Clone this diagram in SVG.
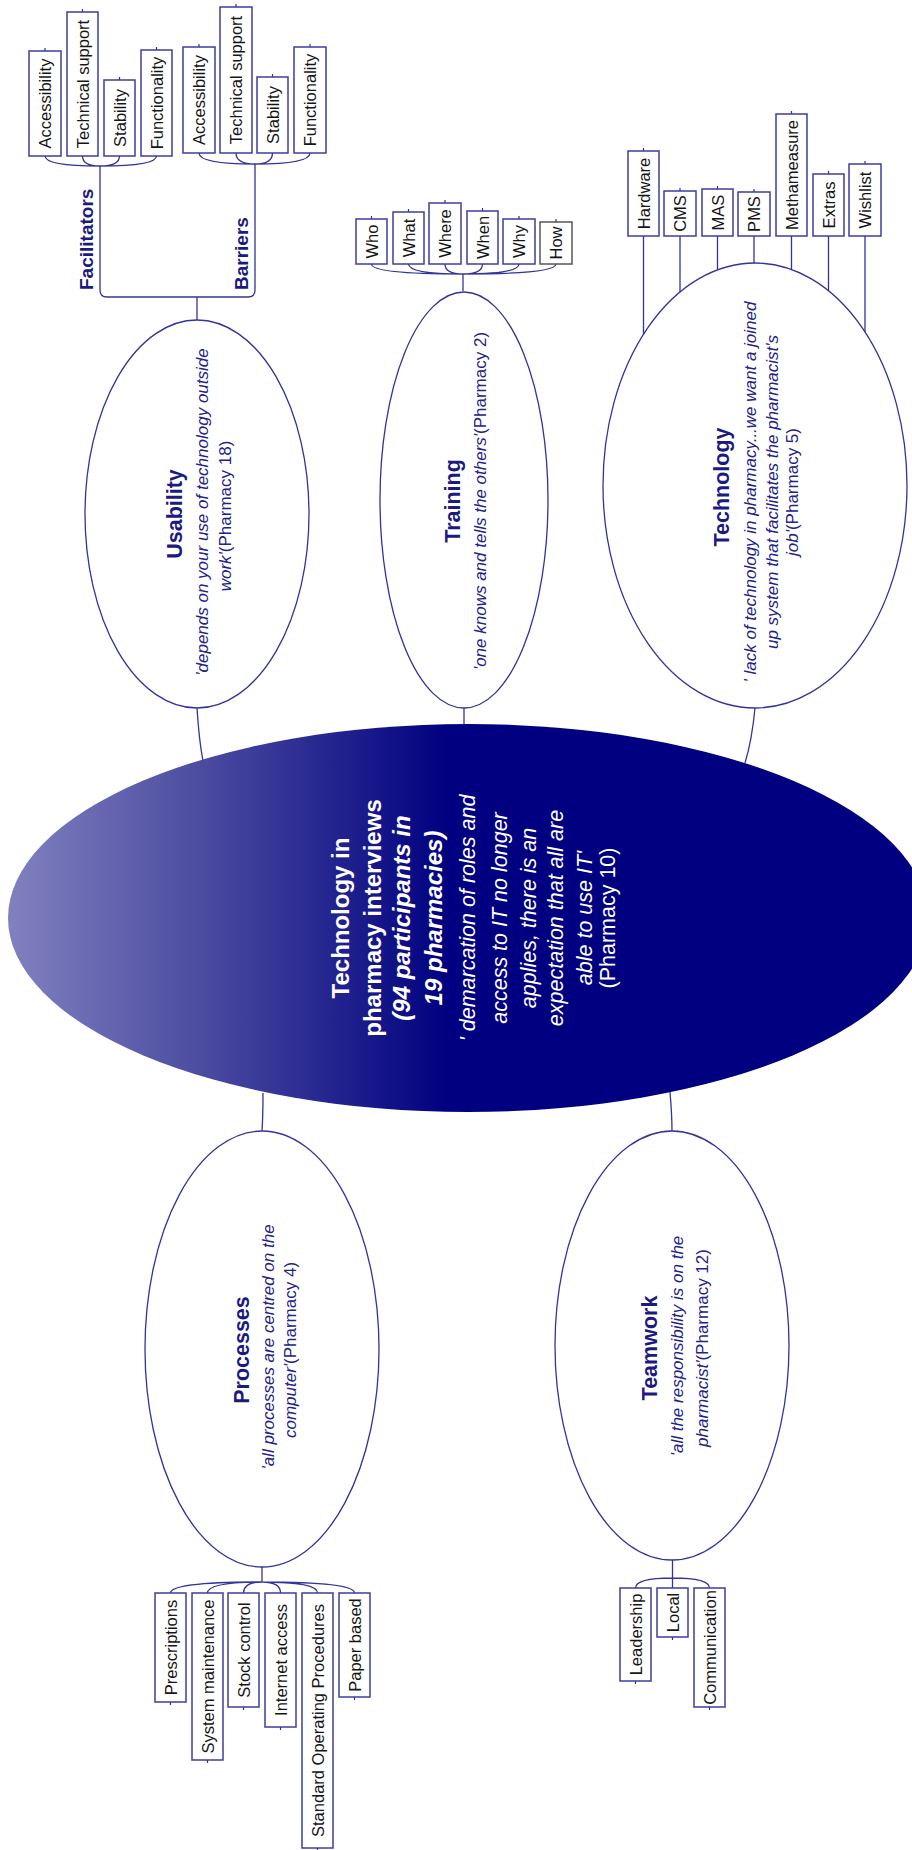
<svg xmlns="http://www.w3.org/2000/svg" width="912" height="1850" viewBox="0 0 912 1850">
<defs>
<style>
.ln{fill:none;stroke:#333399;stroke-width:1.3}
.tk{fill:none;stroke:#333399;stroke-width:1.2}
.bx{fill:#fff;stroke:#3c3ca0;stroke-width:1.5}
.bxg{fill:#fff;stroke:#555;stroke-width:1.5}
.el{fill:#fff;stroke:#333399;stroke-width:1.3}
text{font-family:"Liberation Sans",Arial,sans-serif;text-anchor:middle;dominant-baseline:central}
.bt{font-size:16.5px;fill:#151515}
.tt{font-size:21.5px;font-weight:bold;fill:#1a1a80}
.lb{font-size:19px;font-weight:bold;fill:#1a1a80;text-anchor:start}
.q{font-size:17px;font-style:italic;fill:#22228a}
.n{font-style:normal}
.ct{font-size:24px;font-weight:bold;fill:#fff}
.ci{font-size:24px;font-weight:bold;font-style:italic;fill:#fff}
.cq{font-size:21.5px;font-style:italic;fill:#fff}
.cn{font-size:21.5px;fill:#fff}
</style>
<linearGradient id="cg" gradientUnits="userSpaceOnUse" x1="8" y1="0" x2="450" y2="0">
<stop offset="0" stop-color="#8181c0"/>
<stop offset="0.45" stop-color="#4a4aa0"/>
<stop offset="1" stop-color="#000080"/>
</linearGradient>
</defs>
<rect width="912" height="1850" fill="#fff"/>

<g id="connectors">
<path class="ln" d="M45,156 Q45,166 100,166 M82.5,156 Q82.5,166 100,166 M119.5,156 Q119.5,166 100,166 M156.5,156 Q156.5,166 100,166"/>
<path class="ln" d="M199,153 Q199,164 255,164 M236,153 Q236,164 255,164 M272.5,153 Q272.5,164 255,164 M310,153 Q310,164 255,164"/>
<path class="ln" d="M100,166 V290 Q100,297 107,297 H248 Q255,297 255,290 V164"/>
<path class="ln" d="M197,297 V320"/>
<path class="ln" d="M371.5,264 Q371.5,274 463,274 M408.5,264 Q408.5,274 463,274 M445,264 Q445,274 463,274 M482.5,264 Q482.5,274 463,274 M519,264 Q519,274 463,274 M556,264 Q556,274 463,274"/>
<path class="ln" d="M463,274 V291"/>
<path class="ln" d="M643.5,236 V334 M680,236 V292 M717.5,236 V270 M754,236 V263 M791.5,236 V269.5 M828.5,236 V291 M865,236 V332"/>
<path class="ln" d="M262,1567 V1582 M262,1582 Q170.5,1582 170.5,1593 M262,1582 Q207.5,1582 207.5,1593 M262,1582 Q243.5,1582 243.5,1593 M262,1582 Q280.5,1582 280.5,1593 M262,1582 Q317.5,1582 317.5,1593 M262,1582 Q354.5,1582 354.5,1593"/>
<path class="ln" d="M672.5,1560 V1588 M672.5,1578 Q635.5,1578 635.5,1588 M672.5,1578 Q709.5,1578 709.5,1588"/>
<path class="ln" d="M197,708 Q199,740 203,761"/>
<path class="ln" d="M464,708 V725"/>
<path class="ln" d="M755,708 Q752,740 745,763"/>
<path class="ln" d="M263,1093 Q263,1115 262,1131"/>
<path class="ln" d="M670,1092 Q672,1115 672,1131"/>
</g>

<g id="center">
<ellipse cx="468" cy="918" rx="460" ry="194" fill="url(#cg)"/>
<text class="ct" transform="translate(340,918) rotate(-90)">Technology in</text>
<text class="ct" transform="translate(372,918) rotate(-90)">pharmacy interviews</text>
<text class="ci" transform="translate(401,918) rotate(-90)">(94 participants in</text>
<text class="ci" transform="translate(433,918) rotate(-90)">19 pharmacies)</text>
<text class="cq" transform="translate(468,918) rotate(-90)">' demarcation of roles and</text>
<text class="cq" transform="translate(500,918) rotate(-90)">access to IT no longer</text>
<text class="cq" transform="translate(529,918) rotate(-90)">applies, there is an</text>
<text class="cq" transform="translate(556,918) rotate(-90)">expectation that all are</text>
<text class="cq" transform="translate(585,918) rotate(-90)">able to use IT'</text>
<text class="cn" transform="translate(608,918) rotate(-90)">(Pharmacy 10)</text>
</g>

<g id="usability">
<ellipse class="el" cx="197" cy="514" rx="112" ry="194"/>
<text class="tt" transform="translate(175,514) rotate(-90)">Usability</text>
<text class="q" transform="translate(202,512) rotate(-90)">'depends on your use of technology outside</text>
<text class="q" transform="translate(225,516) rotate(-90)">work'<tspan class="n">(Pharmacy 18)</tspan></text>
</g>

<g id="facilitators">
<text class="lb" transform="translate(86,290) rotate(-90)">Facilitators</text>
<rect class="bx" x="29" y="51" width="32" height="105"/>
<rect class="bx" x="67" y="12" width="31" height="144"/>
<rect class="bx" x="104" y="80" width="31" height="76"/>
<rect class="bx" x="141" y="50" width="31" height="106"/>
<path class="tk" d="M45,48 V51 M82.5,9 V12 M119.5,77 V80 M156.5,47 V50"/>
<text class="bt" transform="translate(45,103.5) rotate(-90)">Accessibility</text>
<text class="bt" transform="translate(82.5,84) rotate(-90)">Technical support</text>
<text class="bt" transform="translate(119.5,118) rotate(-90)">Stability</text>
<text class="bt" transform="translate(156.5,103) rotate(-90)">Functionality</text>
</g>

<g id="barriers">
<text class="lb" transform="translate(241,290) rotate(-90)">Barriers</text>
<rect class="bx" x="183" y="47" width="32" height="106"/>
<rect class="bx" x="220" y="7" width="32" height="146"/>
<rect class="bx" x="257" y="77" width="31" height="76"/>
<rect class="bx" x="294" y="47" width="32" height="106"/>
<path class="tk" d="M199,44 V47 M236,4 V7 M272.5,74 V77 M310,44 V47"/>
<text class="bt" transform="translate(199,100) rotate(-90)">Accessibility</text>
<text class="bt" transform="translate(236,80) rotate(-90)">Technical support</text>
<text class="bt" transform="translate(272.5,115) rotate(-90)">Stability</text>
<text class="bt" transform="translate(310,100) rotate(-90)">Functionality</text>
</g>

<g id="training">
<ellipse class="el" cx="464" cy="500" rx="84" ry="208"/>
<text class="tt" transform="translate(453,501) rotate(-90)">Training</text>
<text class="q" transform="translate(480,501) rotate(-90)">'one knows and tells the others'<tspan class="n">(Pharmacy 2)</tspan></text>
<rect class="bx" x="356" y="219" width="31" height="45"/>
<rect class="bx" x="393" y="212" width="31" height="52"/>
<rect class="bx" x="429" y="203" width="32" height="61"/>
<rect class="bx" x="467" y="211" width="31" height="53"/>
<rect class="bx" x="503" y="219" width="32" height="45"/>
<rect class="bxg" x="540" y="222" width="32" height="42"/>
<path class="tk" d="M371.5,216 V219 M408.5,209 V212 M445,200 V203 M482.5,208 V211 M519,216 V219 M556,219 V222"/>
<text class="bt" transform="translate(371.5,241.5) rotate(-90)">Who</text>
<text class="bt" transform="translate(408.5,238) rotate(-90)">What</text>
<text class="bt" transform="translate(445,233.5) rotate(-90)">Where</text>
<text class="bt" transform="translate(482.5,237.5) rotate(-90)">When</text>
<text class="bt" transform="translate(519,241.5) rotate(-90)">Why</text>
<text class="bt" transform="translate(556,243) rotate(-90)">How</text>
</g>

<g id="technology">
<ellipse class="el" cx="755" cy="485.5" rx="152" ry="222.5"/>
<text class="tt" transform="translate(722,487) rotate(-90)">Technology</text>
<text class="q" transform="translate(750,492) rotate(-90)">' lack of technology in pharmacy...we want a joined</text>
<text class="q" transform="translate(772,492) rotate(-90)">up system that facilitates the pharmacist's</text>
<text class="q" transform="translate(792,492) rotate(-90)">job'<tspan class="n">(Pharmacy 5)</tspan></text>
<rect class="bx" x="628" y="151" width="31" height="85"/>
<rect class="bx" x="664" y="191" width="32" height="45"/>
<rect class="bx" x="702" y="189" width="31" height="47"/>
<rect class="bx" x="738" y="192" width="32" height="44"/>
<rect class="bx" x="776" y="114" width="31" height="122"/>
<rect class="bx" x="813" y="174" width="31" height="62"/>
<rect class="bx" x="849" y="164" width="32" height="72"/>
<path class="tk" d="M643.5,148 V151 M680,188 V191 M717.5,186 V189 M754,189 V192 M791.5,111 V114 M828.5,171 V174 M865,161 V164"/>
<text class="bt" transform="translate(643.5,193.5) rotate(-90)">Hardware</text>
<text class="bt" transform="translate(680,213.5) rotate(-90)">CMS</text>
<text class="bt" transform="translate(717.5,212.5) rotate(-90)">MAS</text>
<text class="bt" transform="translate(754,214) rotate(-90)">PMS</text>
<text class="bt" transform="translate(791.5,175) rotate(-90)">Methameasure</text>
<text class="bt" transform="translate(828.5,205) rotate(-90)">Extras</text>
<text class="bt" transform="translate(865,200) rotate(-90)">Wishlist</text>
</g>

<g id="processes">
<ellipse class="el" cx="262" cy="1349" rx="117" ry="218"/>
<text class="tt" transform="translate(242,1350) rotate(-90)">Processes</text>
<text class="q" transform="translate(268,1347) rotate(-90)">'all processes are centred on the</text>
<text class="q" transform="translate(290,1350) rotate(-90)">computer'<tspan class="n">(Pharmacy 4)</tspan></text>
<rect class="bx" x="155" y="1593" width="31" height="109"/>
<rect class="bx" x="192" y="1593" width="31" height="167"/>
<rect class="bx" x="228" y="1593" width="31" height="114"/>
<rect class="bx" x="265" y="1593" width="31" height="134"/>
<rect class="bx" x="302" y="1593" width="31" height="255"/>
<rect class="bx" x="339" y="1593" width="31" height="104"/>
<path class="tk" d="M170.5,1702 V1705 M207.5,1760 V1763 M243.5,1707 V1710 M280.5,1727 V1730 M317.5,1848 V1850 M354.5,1697 V1700"/>
<text class="bt" transform="translate(170.5,1647.5) rotate(-90)">Prescriptions</text>
<text class="bt" transform="translate(207.5,1676.5) rotate(-90)">System maintenance</text>
<text class="bt" transform="translate(243.5,1650) rotate(-90)">Stock control</text>
<text class="bt" transform="translate(280.5,1660) rotate(-90)">Internet access</text>
<text class="bt" transform="translate(317.5,1720.5) rotate(-90)">Standard Operating Procedures</text>
<text class="bt" transform="translate(354.5,1645) rotate(-90)">Paper based</text>
</g>

<g id="teamwork">
<ellipse class="el" cx="672" cy="1345.5" rx="117" ry="214.5"/>
<text class="tt" transform="translate(650,1348) rotate(-90)">Teamwork</text>
<text class="q" transform="translate(677,1346) rotate(-90)">'all the responsibility is on the</text>
<text class="q" transform="translate(702,1348) rotate(-90)">pharmacist'<tspan class="n">(Pharmacy 12)</tspan></text>
<rect class="bx" x="620" y="1588" width="31" height="93"/>
<rect class="bx" x="657" y="1588" width="31" height="49"/>
<rect class="bx" x="694" y="1588" width="31" height="119"/>
<path class="tk" d="M635.5,1681 V1684 M672.5,1637 V1640 M709.5,1707 V1710"/>
<text class="bt" transform="translate(635.5,1634.5) rotate(-90)">Leadership</text>
<text class="bt" transform="translate(672.5,1612.5) rotate(-90)">Local</text>
<text class="bt" transform="translate(709.5,1647.5) rotate(-90)">Communication</text>
</g>
</svg>
